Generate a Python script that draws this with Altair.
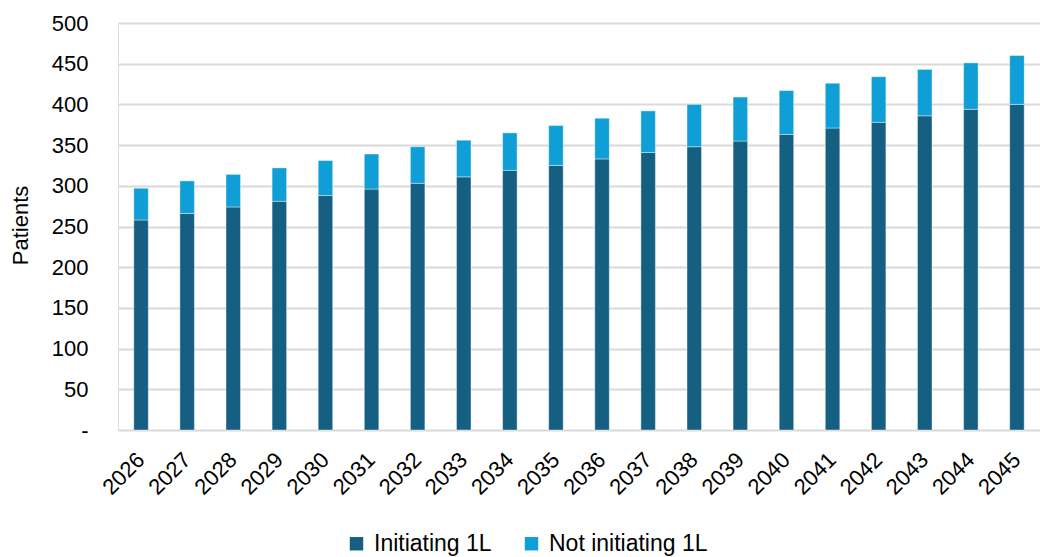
import altair as alt
import pandas as pd

years = [str(y) for y in range(2026, 2046)]
initiating = [258, 266, 274, 281, 288, 296, 303, 311, 319, 325,
              333, 341, 348, 355, 363, 371, 378, 386, 394, 400]
not_initiating = [39, 40, 40, 41, 43, 43, 45, 45, 46, 49,
                  50, 51, 52, 54, 54, 55, 56, 57, 57, 60]
series = ["Initiating 1L", "Not initiating 1L"]
colors = ["#156082", "#0F9ED5"]

rows = []
for i, yr in enumerate(years):
    rows.append({"year": yr, "group": series[0], "value": initiating[i], "ord": 0})
    rows.append({"year": yr, "group": series[1], "value": not_initiating[i], "ord": 1})
df = pd.DataFrame(rows)

FONT = "Liberation Sans"

chart = alt.Chart(df).mark_bar(size=14.5, stroke="white", strokeWidth=0.4).encode(
    x=alt.X("year:N", sort=years, title=None,
            scale=alt.Scale(paddingInner=0, paddingOuter=0),
            axis=alt.Axis(labelAngle=-45, labelAlign="right", labelBaseline="middle",
                          labelPadding=26, labelFontSize=22, labelFont=FONT,
                          labelColor="#000000", ticks=False, tickSize=0,
                          domain=False, grid=False, labelOverlap=False)),
    y=alt.Y("value:Q", stack="zero", title="Patients",
            scale=alt.Scale(domain=[0, 500], nice=False),
            axis=alt.Axis(values=list(range(0, 501, 50)),
                          labelExpr="datum.value == 0 ? '-' : datum.label",
                          labelFontSize=22, labelFont=FONT, labelColor="#000000",
                          labelPadding=30, ticks=False, tickSize=0, domain=False,
                          grid=True, gridColor="#d9d9d9", gridWidth=2,
                          titleFontSize=22, titleFont=FONT, titleFontWeight="normal",
                          titleColor="#000000", titleX=-98, titleY=202,
                          titleAlign="center", titleBaseline="middle", titleAngle=-90)),
    color=alt.Color("group:N",
                    scale=alt.Scale(domain=series, range=colors),
                    legend=alt.Legend(title=None, orient="none", direction="horizontal",
                                      legendX=227, legendY=509,
                                      symbolType="square", symbolSize=180,
                                      symbolStrokeWidth=0,
                                      labelFontSize=23, labelFont=FONT,
                                      labelColor="#000000", columnPadding=28,
                                      labelOffset=6)),
    order=alt.Order("ord:Q", sort="ascending"),
).properties(
    width=922,
    height=407,
    autosize=alt.AutoSizeParams(type="none"),
    padding={"left": 118, "top": 23, "right": 0, "bottom": 127},
).configure_view(stroke=None).configure(background="white")

chart.save("out.html", embed_options={"renderer": "svg", "actions": False})
